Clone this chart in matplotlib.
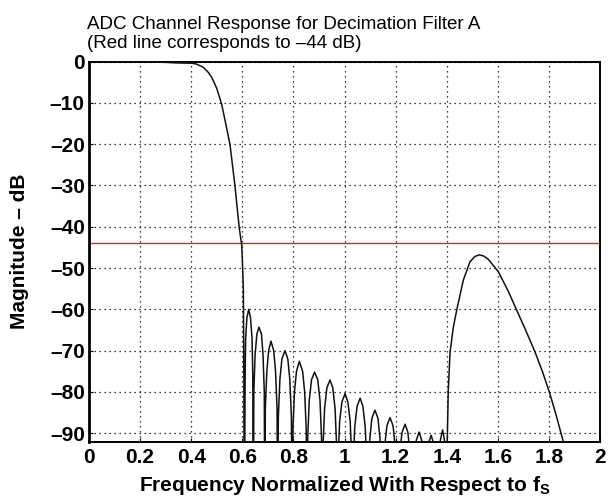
import matplotlib
matplotlib.use("Agg")
import matplotlib.pyplot as plt

plt.rcParams['font.family'] = ['Liberation Sans', 'DejaVu Sans']
plt.rcParams['mathtext.fontset'] = 'custom'
plt.rcParams['mathtext.rm'] = 'Liberation Sans'
plt.rcParams['mathtext.bf'] = 'Liberation Sans:bold'

# passband and transition band
pass_freq = [0.0, 0.1, 0.2, 0.3, 0.35, 0.40, 0.42, 0.447, 0.465, 0.48, 0.50,
             0.519, 0.535, 0.552, 0.571, 0.588, 0.598, 0.604, 0.606, 0.607]
pass_mag = [0.0, 0.0, -0.05, -0.2, -0.35, -0.4, -0.6, -1.4, -2.5, -3.8, -6.5,
            -10.3, -15.0, -20.2, -30.0, -40.3, -44.6, -55.0, -75.0, -100.0]

# stopband lobes (-100 = null below the axis)
stop_freq = [0.609, 0.611, 0.613, 0.618, 0.625, 0.632, 0.638, 0.641,
             0.642, 0.644, 0.645, 0.650, 0.657, 0.665, 0.675, 0.681, 0.686,
             0.687, 0.689, 0.690, 0.696, 0.703, 0.712, 0.723, 0.730, 0.736,
             0.737, 0.739, 0.741, 0.747, 0.755, 0.767, 0.778, 0.786, 0.792,
             0.794, 0.796, 0.798, 0.804, 0.812, 0.823, 0.836, 0.844, 0.850,
             0.852, 0.854, 0.856, 0.862, 0.871, 0.883, 0.895, 0.904, 0.910,
             0.912, 0.914, 0.916, 0.922, 0.931, 0.943, 0.954, 0.963, 0.969,
             0.971, 0.973, 0.975, 0.981, 0.990, 1.002, 1.013, 1.022, 1.028,
             1.031, 1.034, 1.040, 1.049, 1.061, 1.072, 1.081, 1.087,
             1.090, 1.099, 1.107, 1.119, 1.131, 1.139,
             1.148, 1.157, 1.166, 1.178, 1.190, 1.198,
             1.207, 1.216, 1.225, 1.237, 1.248, 1.256,
             1.265, 1.273, 1.281, 1.292, 1.302, 1.310,
             1.318, 1.328, 1.339, 1.349,
             1.362, 1.374, 1.384, 1.392, 1.400]
stop_mag = [-100, -76, -67, -62, -60.0, -62, -67, -76,
            -100, -100, -80, -71, -66, -64.3, -66, -71, -80,
            -100, -100, -84, -75, -70, -67.7, -70, -75, -84,
            -100, -100, -86, -77, -72, -70.0, -72, -77, -86,
            -100, -100, -89, -80, -75, -72.6, -75, -80, -89,
            -100, -100, -91, -82, -77, -75.2, -77, -82, -91,
            -100, -100, -93, -84, -79, -77.1, -79, -84, -93,
            -100, -100, -96, -87, -82.4, -80.4, -82.4, -87, -96,
            -100, -97, -88.5, -83.5, -81.5, -83.5, -88.5, -97,
            -100, -91.4, -86.4, -84.4, -86.4, -91.4,
            -100, -93.2, -88.2, -86.2, -88.2, -93.2,
            -100, -94.8, -89.8, -87.8, -89.8, -94.8,
            -100, -96.7, -91.7, -89.7, -91.7, -96.7,
            -100, -92.5, -90.5, -92.5,
            -100, -92, -89.2, -92, -100]

# alias band around 1.5 fs
alias_freq = [1.401, 1.402, 1.406, 1.413, 1.426, 1.439, 1.465, 1.491, 1.510,
              1.528, 1.545, 1.563, 1.602, 1.640, 1.674, 1.710, 1.746, 1.776,
              1.804, 1.830, 1.856, 1.870]
alias_mag = [-100, -92, -79.7, -70.4, -64.3, -60.2, -52.9, -48.5, -47.2,
             -46.8, -47.1, -47.9, -50.9, -55.5, -60.2, -65.2, -70.4, -75.3,
             -80.5, -86.0, -92.0, -96.0]

ref_level = -44
xticks = [0, 0.2, 0.4, 0.6, 0.8, 1, 1.2, 1.4, 1.6, 1.8, 2]
xtick_labels = ['0', '0.2', '0.4', '0.6', '0.8', '1', '1.2', '1.4', '1.6', '1.8', '2']
yticks = [0, -10, -20, -30, -40, -50, -60, -70, -80, -90]
ytick_labels = ['0', '\u201310', '\u201320', '\u201330', '\u201340', '\u201350',
                '\u201360', '\u201370', '\u201380', '\u201390']

fig = plt.figure(figsize=(6.08, 4.99), dpi=100)
ax = fig.add_axes([0.1464, 0.1152, 0.8405, 0.7615])

freq = pass_freq + stop_freq + alias_freq
mag = pass_mag + stop_mag + alias_mag
ax.plot(freq, mag, color='#111111', lw=1.1, zorder=3)
ax.axhline(ref_level, color='#d42a2a', lw=1.0, zorder=2)

ax.set_xlim(0, 2)
ax.set_ylim(-92, 0)
ax.set_xticks(xticks)
ax.set_xticklabels(xtick_labels, fontsize=15, fontweight='bold')
ax.set_yticks(yticks)
ax.set_yticklabels(ytick_labels, fontsize=15, fontweight='bold')
ax.tick_params(axis='x', direction='in', length=3, width=0.8, pad=4.5)
ax.tick_params(axis='y', direction='in', length=3, width=0.8, pad=3)
ax.grid(True, color='black', linestyle=(0, (1, 3)), lw=0.9)

for sp in ax.spines.values():
    sp.set_linewidth(1.4)
    sp.set_color('black')
ax.spines['left'].set_linewidth(2)

ax.set_xlabel(r'Frequency Normalized With Respect to f$_\mathbf{S}$',
              fontsize=15, fontweight='bold')
ax.xaxis.set_label_coords(0.5, -0.086)
ax.set_ylabel('Magnitude \u2013 dB', fontsize=15, fontweight='bold')
ax.yaxis.set_label_coords(-0.117, 0.5)

fig.text(0.1425, 0.941, 'ADC Channel Response for Decimation Filter A',
         fontsize=13.5, ha='left', va='baseline')
fig.text(0.1425, 0.903, '(Red line corresponds to \u201344 dB)',
         fontsize=13.5, ha='left', va='baseline')

fig.savefig('out.png', dpi=100)
